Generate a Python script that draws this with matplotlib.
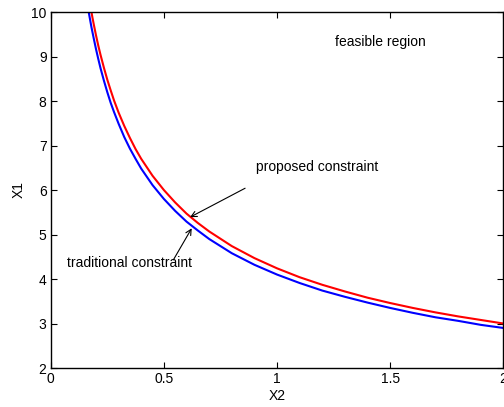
import matplotlib
matplotlib.use("Agg")
import matplotlib.pyplot as plt

plt.rcParams['font.family'] = ['Liberation Sans', 'DejaVu Sans']

# Proposed constraint (red)
x_proposed = [0.177, 0.185, 0.19, 0.2, 0.21, 0.22, 0.235, 0.25, 0.265, 0.28, 0.3, 0.325,
              0.35, 0.375, 0.4, 0.45, 0.5, 0.55, 0.6, 0.65, 0.7, 0.8, 0.9, 1.0, 1.1,
              1.2, 1.3, 1.4, 1.5, 1.6, 1.7, 1.8, 1.9, 2.0]
y_proposed = [10.08, 9.86, 9.73, 9.48, 9.25, 9.04, 8.75, 8.48, 8.24, 8.01, 7.74, 7.44,
              7.17, 6.92, 6.70, 6.32, 6.00, 5.72, 5.47, 5.26, 5.07, 4.74, 4.47, 4.24, 4.04,
              3.87, 3.72, 3.58, 3.46, 3.35, 3.25, 3.16, 3.08, 3.00]

# Traditional constraint (blue)
x_traditional = [0.165, 0.17, 0.18, 0.19, 0.2, 0.21, 0.22, 0.235, 0.25, 0.265, 0.28, 0.3,
                 0.325, 0.35, 0.375, 0.4, 0.45, 0.5, 0.55, 0.6, 0.65, 0.7, 0.8, 0.9, 1.0,
                 1.1, 1.2, 1.3, 1.4, 1.5, 1.6, 1.7, 1.8, 1.9, 2.0]
y_traditional = [10.09, 9.94, 9.66, 9.41, 9.17, 8.95, 8.74, 8.46, 8.20, 7.96, 7.75, 7.49,
                 7.19, 6.93, 6.70, 6.48, 6.11, 5.80, 5.53, 5.29, 5.09, 4.90, 4.58, 4.32, 4.10,
                 3.91, 3.74, 3.60, 3.47, 3.35, 3.24, 3.14, 3.06, 2.97, 2.90]

x_ticks = [0, 0.5, 1, 1.5, 2]
x_tick_labels = ['0', '0.5', '1', '1.5', '2']
y_ticks = [2, 3, 4, 5, 6, 7, 8, 9, 10]

fig = plt.figure(figsize=(5.04, 4.07), dpi=100)
ax = fig.add_axes([0.1006, 0.0958, 0.8981, 0.8747])

ax.plot(x_proposed, y_proposed, color='#ff0000', lw=1.5)
ax.plot(x_traditional, y_traditional, color='#0000ff', lw=1.5)

ax.set_xlim(0, 2)
ax.set_ylim(2, 10)
ax.set_xticks(x_ticks)
ax.set_xticklabels(x_tick_labels)
ax.set_yticks(y_ticks)
ax.tick_params(direction='in', top=True, right=True, length=4, width=0.8,
               labelsize=10, pad=3, colors='black')
for s in ax.spines.values():
    s.set_linewidth(1.0)

ax.set_xlabel('X2', fontsize=10, labelpad=2)
ax.set_ylabel('X1', fontsize=10, labelpad=4)

ax.text(1.256, 9.33, 'feasible region', fontsize=10, va='center', ha='left')

ax.annotate('proposed constraint', xy=(0.616, 5.39), xytext=(0.907, 6.52),
            fontsize=10, va='center', ha='left')
ax.annotate('', xy=(0.616, 5.39), xytext=(0.859, 6.04),
            arrowprops=dict(arrowstyle='->', lw=0.8, color='black',
                            shrinkA=0, shrinkB=0, mutation_scale=10))

ax.text(0.071, 4.35, 'traditional constraint', fontsize=10, va='center', ha='left')
ax.annotate('', xy=(0.623, 5.14), xytext=(0.542, 4.43),
            arrowprops=dict(arrowstyle='->', lw=0.8, color='black',
                            shrinkA=0, shrinkB=0, mutation_scale=10))

fig.savefig('out.png', dpi=100)
